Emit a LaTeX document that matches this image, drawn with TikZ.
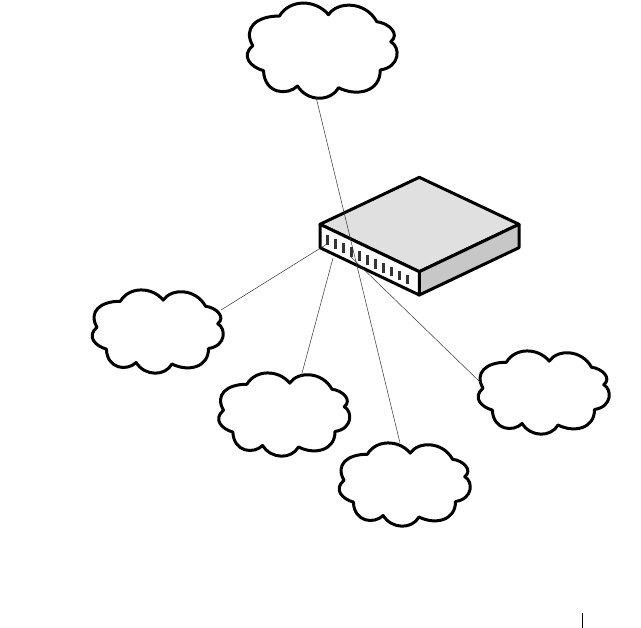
\documentclass[tikz,border=0pt]{standalone}
\tikzset{
  x=1pt,y=-1pt,
  outline/.style={line width=3pt,line join=round,draw=black},
  cloudline/.style={outline,fill=white},
  linkline/.style={line width=0.5pt,draw=black!80},
  portmark/.style={line width=2.6pt,draw=black!80},
  cloudshape/.pic={
    \draw[cloudline] (-43,-34)
      .. controls (-33,-51) and (-7,-51) .. (6,-35.3)
      .. controls (15,-49) and (43,-49) .. (54.3,-28.3)
      .. controls (66,-27) and (78,-16) .. (68.3,-8.3)
      .. controls (78,-3) and (78,17) .. (57.7,20)
      .. controls (58,42) and (34,47) .. (16,37.7)
      .. controls (8,52) and (-15,52) .. (-25,36)
      .. controls (-35,46) and (-58,44) .. (-59,20.7)
      .. controls (-72,17) and (-82,6) .. (-69.7,-4.3)
      .. controls (-80,-22) and (-66,-34) .. (-43,-34) -- cycle;
  }
}
\begin{document}
\begin{tikzpicture}
\useasboundingbox (0,0) rectangle (641,628);
% clouds
\pic at (322.5,50) {cloudshape};
\pic[scale=0.875] at (158,331) {cloudshape};
\pic[scale=0.875] at (284.5,414) {cloudshape};
\pic[scale=0.875] at (405,484) {cloudshape};
\pic[scale=0.875] at (544,392) {cloudshape};
% device
\coordinate (tl) at (320,224.3);
\coordinate (tb) at (419.3,177.3);
\coordinate (tr) at (519,224.3);
\coordinate (tf) at (419.3,271.7);
\coordinate (bl) at (320,247.7);
\coordinate (bf) at (419.3,295);
\coordinate (br) at (519,247.7);
\draw[outline,fill=black!12] (tl) -- (tb) -- (tr) -- (tf) -- cycle;
\draw[outline,fill=black!22] (tf) -- (tr) -- (br) -- (bf) -- cycle;
\draw[outline,fill=white] (tl) -- (tf) -- (bf) -- (bl) -- cycle;
\foreach \i in {0,...,10}
  \draw[portmark] ({327.3+8.04*\i},{235.5+3.93*\i}) -- ++(0,9.5);
% connectors
\coordinate (topend) at (316,97);
\coordinate (topfoot) at (400,443);
\coordinate (leftstart) at (327,244);
\coordinate (leftend) at (221,310);
\coordinate (midstart) at (333,258);
\coordinate (midend) at (301,377);
\coordinate (rightstart) at (350,256);
\coordinate (rightend) at (481,383);
\draw[linkline] (topend) -- (topfoot);
\draw[linkline] (leftstart) -- (leftend);
\draw[linkline] (midstart) -- (midend);
\draw[linkline] (rightstart) -- (rightend);
% margin tick
\coordinate (ticktop) at (582.3,613);
\coordinate (tickbot) at (582.3,628);
\draw[line width=0.8pt] (ticktop) -- (tickbot);
\end{tikzpicture}
\end{document}
